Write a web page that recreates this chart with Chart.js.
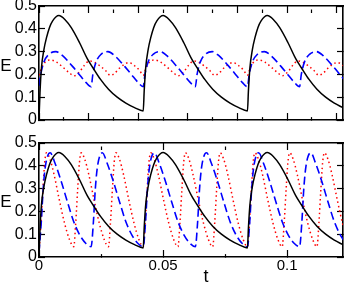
<!DOCTYPE html>
<html>
<head>
<meta charset="utf-8">
<script src="https://cdn.jsdelivr.net/npm/chart.js@4.4.1/dist/chart.umd.min.js"></script>
<style>
  html, body { margin: 0; padding: 0; background: #fff; }
  #wrap { position: relative; width: 345px; height: 283px; }
  canvas { position: absolute; left: 0; }
</style>
</head>
<body>
<div id="wrap">
  <canvas id="topChart" width="345" height="135" style="top:0;width:345px;height:135px"></canvas>
  <canvas id="bottomChart" width="345" height="148" style="top:135px;width:345px;height:148px"></canvas>
</div>
<script>
// time axis range and ticks
const T_MIN = 0;
const T_MAX = 0.1225;
const E_MIN = 0;
const E_MAX = 0.5;
const E_STEP = 0.1;

// black solid curve (same in both panels), [t, E]
const blackCurve = [
  [0, 0], [0.0004, 0.12], [0.001, 0.23], [0.002, 0.31], [0.003, 0.36], [0.0042, 0.405], [0.0055, 0.435],
  [0.008, 0.458], [0.0105, 0.44], [0.013, 0.405], [0.0163, 0.34], [0.0195, 0.268], [0.0218, 0.228],
  [0.0248, 0.178], [0.028, 0.135], [0.0315, 0.1], [0.035, 0.074], [0.0385, 0.054], [0.042, 0.04],
  [0.0424, 0.13], [0.043, 0.23], [0.044, 0.31], [0.045, 0.36], [0.0462, 0.405], [0.0475, 0.435],
  [0.05, 0.458], [0.0525, 0.44], [0.055, 0.405], [0.0583, 0.34], [0.0615, 0.268], [0.0638, 0.228],
  [0.0668, 0.178], [0.07, 0.135], [0.0735, 0.1], [0.077, 0.074], [0.0805, 0.054], [0.084, 0.04],
  [0.0844, 0.13], [0.085, 0.23], [0.086, 0.31], [0.087, 0.36], [0.0882, 0.405], [0.0895, 0.435],
  [0.092, 0.458], [0.0945, 0.44], [0.097, 0.405], [0.1003, 0.34], [0.1035, 0.268], [0.1058, 0.228],
  [0.1088, 0.178], [0.112, 0.135], [0.1155, 0.1], [0.119, 0.074], [0.1225, 0.054]
];

// top panel, blue dashed
const blueTop = [
  [0, 0.15], [0.0007, 0.2], [0.002, 0.255], [0.004, 0.288], [0.0068, 0.3], [0.0095, 0.282], [0.0136, 0.234], [0.0162, 0.2], [0.0189, 0.165], [0.021, 0.146],
  [0.0217, 0.2], [0.023, 0.255], [0.025, 0.288], [0.0278, 0.3], [0.0305, 0.282], [0.0346, 0.234], [0.0372, 0.2], [0.0399, 0.165], [0.042, 0.146],
  [0.0427, 0.2], [0.044, 0.255], [0.046, 0.288], [0.0488, 0.3], [0.0515, 0.282], [0.0556, 0.234], [0.0582, 0.2], [0.0609, 0.165], [0.063, 0.146],
  [0.0637, 0.2], [0.065, 0.255], [0.067, 0.288], [0.0698, 0.3], [0.0725, 0.282], [0.0766, 0.234], [0.0792, 0.2], [0.0819, 0.165], [0.084, 0.146],
  [0.0847, 0.2], [0.086, 0.255], [0.088, 0.288], [0.0908, 0.3], [0.0935, 0.282], [0.0976, 0.234], [0.1002, 0.2], [0.1029, 0.165], [0.105, 0.146],
  [0.1057, 0.2], [0.107, 0.255], [0.109, 0.288], [0.1118, 0.3], [0.1145, 0.282], [0.1186, 0.234], [0.1212, 0.2], [0.1239, 0.165]
];

// top panel, red dotted
const redTop = [
  [0, 0.196], [0.0012, 0.232], [0.0028, 0.257], [0.0048, 0.263], [0.007, 0.254], [0.0096, 0.232], [0.0122, 0.207],
  [0.0141, 0.194], [0.0162, 0.21], [0.0183, 0.24], [0.0203, 0.259], [0.0225, 0.252], [0.0245, 0.238], [0.027, 0.215],
  [0.0287, 0.196], [0.0305, 0.205], [0.0325, 0.228], [0.0345, 0.245], [0.0362, 0.252], [0.0385, 0.238], [0.0405, 0.218], [0.042, 0.196],
  [0.0432, 0.232], [0.0448, 0.257], [0.0468, 0.263], [0.049, 0.254], [0.0516, 0.232], [0.0542, 0.207],
  [0.0561, 0.194], [0.0582, 0.21], [0.0603, 0.24], [0.0623, 0.259], [0.0645, 0.252], [0.0665, 0.238], [0.069, 0.215],
  [0.0707, 0.196], [0.0725, 0.205], [0.0745, 0.228], [0.0765, 0.245], [0.0782, 0.252], [0.0805, 0.238], [0.0825, 0.218], [0.084, 0.196],
  [0.0852, 0.232], [0.0868, 0.257], [0.0888, 0.263], [0.091, 0.254], [0.0936, 0.232], [0.0962, 0.207],
  [0.0981, 0.194], [0.1002, 0.21], [0.1023, 0.24], [0.1043, 0.259], [0.1065, 0.252], [0.1085, 0.238], [0.111, 0.215],
  [0.1127, 0.196], [0.1145, 0.205], [0.1165, 0.228], [0.1185, 0.245], [0.1202, 0.252], [0.1225, 0.238], [0.1245, 0.218]
];

// bottom panel, blue dashed
const blueBottom = [
  [0, 0.02], [0.0009, 0.15], [0.0017, 0.3], [0.0026, 0.4], [0.0045, 0.457], [0.0065, 0.41], [0.009, 0.33], [0.0115, 0.24], [0.014, 0.155], [0.0165, 0.095], [0.019, 0.058], [0.021, 0.045],
  [0.0219, 0.15], [0.0227, 0.3], [0.0236, 0.4], [0.0255, 0.457], [0.0275, 0.41], [0.03, 0.33], [0.0325, 0.24], [0.035, 0.155], [0.0375, 0.095], [0.04, 0.058], [0.042, 0.045],
  [0.0429, 0.15], [0.0437, 0.3], [0.0446, 0.4], [0.0465, 0.457], [0.0485, 0.41], [0.051, 0.33], [0.0535, 0.24], [0.056, 0.155], [0.0585, 0.095], [0.061, 0.058], [0.063, 0.045],
  [0.0639, 0.15], [0.0647, 0.3], [0.0656, 0.4], [0.0675, 0.457], [0.0695, 0.41], [0.072, 0.33], [0.0745, 0.24], [0.077, 0.155], [0.0795, 0.095], [0.082, 0.058], [0.084, 0.045],
  [0.0849, 0.15], [0.0857, 0.3], [0.0866, 0.4], [0.0885, 0.457], [0.0905, 0.41], [0.093, 0.33], [0.0955, 0.24], [0.098, 0.155], [0.1005, 0.095], [0.103, 0.058], [0.105, 0.045],
  [0.1059, 0.15], [0.1067, 0.3], [0.1076, 0.4], [0.1095, 0.457], [0.1115, 0.41], [0.114, 0.33], [0.1165, 0.24], [0.119, 0.155], [0.1215, 0.095], [0.124, 0.058]
];

// bottom panel, red dotted
const redBottom = [
  [0, 0.02], [0.0008, 0.15], [0.0016, 0.3], [0.0023, 0.415], [0.003, 0.457], [0.0044, 0.43], [0.0061, 0.36], [0.0082, 0.25], [0.0103, 0.148], [0.0123, 0.076], [0.014, 0.045],
  [0.0148, 0.15], [0.0156, 0.3], [0.0163, 0.415], [0.017, 0.457], [0.0184, 0.43], [0.0201, 0.36], [0.0222, 0.25], [0.0243, 0.148], [0.0263, 0.076], [0.028, 0.045],
  [0.0288, 0.15], [0.0296, 0.3], [0.0303, 0.415], [0.031, 0.457], [0.0324, 0.43], [0.0341, 0.36], [0.0362, 0.25], [0.0383, 0.148], [0.0403, 0.076], [0.042, 0.045],
  [0.0428, 0.15], [0.0436, 0.3], [0.0443, 0.415], [0.045, 0.457], [0.0464, 0.43], [0.0481, 0.36], [0.0502, 0.25], [0.0523, 0.148], [0.0543, 0.076], [0.056, 0.045],
  [0.0568, 0.15], [0.0576, 0.3], [0.0583, 0.415], [0.059, 0.457], [0.0604, 0.43], [0.0621, 0.36], [0.0642, 0.25], [0.0663, 0.148], [0.0683, 0.076], [0.07, 0.045],
  [0.0708, 0.15], [0.0716, 0.3], [0.0723, 0.415], [0.073, 0.457], [0.0744, 0.43], [0.0761, 0.36], [0.0782, 0.25], [0.0803, 0.148], [0.0823, 0.076], [0.084, 0.045],
  [0.0848, 0.15], [0.0856, 0.3], [0.0863, 0.415], [0.087, 0.457], [0.0884, 0.43], [0.0901, 0.36], [0.0922, 0.25], [0.0943, 0.148], [0.0963, 0.076], [0.098, 0.045],
  [0.0988, 0.15], [0.0996, 0.3], [0.1003, 0.415], [0.101, 0.457], [0.1024, 0.43], [0.1041, 0.36], [0.1062, 0.25], [0.1083, 0.148], [0.1103, 0.076], [0.112, 0.045],
  [0.1128, 0.15], [0.1136, 0.3], [0.1143, 0.415], [0.115, 0.457], [0.1164, 0.43], [0.1181, 0.36], [0.1202, 0.25], [0.1223, 0.148], [0.1243, 0.076]
];

const FONT = '"Liberation Sans", Arial, Helvetica, sans-serif';
const tickFont = { family: FONT, size: 16 };

function toPoints(arr) {
  return arr.map(p => ({ x: p[0], y: p[1] }));
}

function lineSet(label, arr, color, width, dash) {
  return {
    label: label,
    data: toPoints(arr),
    borderColor: color,
    borderWidth: width,
    borderDash: dash,
    pointRadius: 0,
    fill: false,
    cubicInterpolationMode: 'monotone'
  };
}

function isMajor(value, major) {
  const r = value / major;
  return Math.abs(r - Math.round(r)) < 1e-6;
}

// fixed box size so the plot area lands where it should
function fixSize(size) {
  return function (scale) {
    if (scale.isHorizontal()) scale.height = size; else scale.width = size;
    scale.paddingLeft = 0;
    scale.paddingRight = 0;
    scale.paddingTop = 0;
    scale.paddingBottom = 0;
  };
}

// one axis carries major and minor ticks; minor ones are cut short with a dash
function xAxis(position, minor, major, labels, size) {
  return {
    type: 'linear', position: position, min: T_MIN, max: T_MAX,
    afterFit: fixSize(size),
    border: { display: true, color: '#000', width: 1.6 },
    grid: {
      drawOnChartArea: false, drawTicks: true, tickLength: -7, tickColor: '#000', tickWidth: 1.2,
      tickBorderDash: ctx => (ctx.tick && isMajor(ctx.tick.value, major)) ? [] : [3.5, 40]
    },
    ticks: {
      display: labels, stepSize: minor, includeBounds: false, autoSkip: false, maxRotation: 0,
      padding: 7, color: '#000', font: { family: FONT, size: 15 },
      callback: v => isMajor(v, major) ? String(Math.round(v * 1000) / 1000) : ''
    }
  };
}

function yAxis(position, labels, size) {
  return {
    type: 'linear', position: position, min: E_MIN, max: E_MAX,
    afterFit: fixSize(size),
    border: { display: true, color: '#000', width: 1.6 },
    grid: { drawOnChartArea: false, drawTicks: true, tickLength: -6, tickColor: '#000', tickWidth: 1.2 },
    ticks: {
      display: labels, stepSize: E_STEP, includeBounds: false, autoSkip: false,
      padding: 8, color: '#000', font: tickFont,
      callback: v => String(Math.round(v * 10) / 10)
    }
  };
}

// upright axis names, as in the original figure
const axisNames = {
  id: 'axisNames',
  afterDraw(chart, args, opts) {
    const ctx = chart.ctx;
    ctx.save();
    ctx.fillStyle = '#000';
    ctx.textAlign = 'center';
    ctx.textBaseline = 'alphabetic';
    ctx.font = '17px ' + FONT;
    ctx.fillText(opts.y, 6, opts.yBase);
    if (opts.x) {
      ctx.font = '18px ' + FONT;
      ctx.fillText(opts.x, opts.xPos, opts.xBase);
    }
    ctx.restore();
  }
};

function makeChart(id, datasets, minor, major, showXLabels, pad, xSize, names) {
  return new Chart(document.getElementById(id), {
    type: 'line',
    data: { datasets: datasets },
    options: {
      responsive: false,
      animation: false,
      events: [],
      layout: { padding: pad },
      plugins: { legend: { display: false }, tooltip: { enabled: false }, axisNames: names },
      scales: {
        x: xAxis('bottom', minor, major, showXLabels, xSize),
        xTop: xAxis('top', minor, major, false, 0),
        y: yAxis('left', true, 39),
        yRight: yAxis('right', false, 0)
      }
    },
    plugins: [axisNames]
  });
}

makeChart('topChart', [
  lineSet('black', blackCurve, '#000000', 1.5, []),
  lineSet('blue', blueTop, '#0000ff', 1.6, [8, 4]),
  lineSet('red', redTop, '#ff0000', 1.5, [1.5, 3])
], 0.01, 0.02, false, { left: 0, right: 2, top: 6, bottom: 15 }, 0, { y: 'E', yBase: 71 });

makeChart('bottomChart', [
  lineSet('black', blackCurve, '#000000', 1.5, []),
  lineSet('blue', blueBottom, '#0000ff', 1.6, [8, 4]),
  lineSet('red', redBottom, '#ff0000', 1.5, [1.5, 3])
], 0.025, 0.05, true, { left: 0, right: 2, top: 8, bottom: 0 }, 26, { y: 'E', yBase: 72, x: 't', xPos: 206, xBase: 147 });
</script>
</body>
</html>
